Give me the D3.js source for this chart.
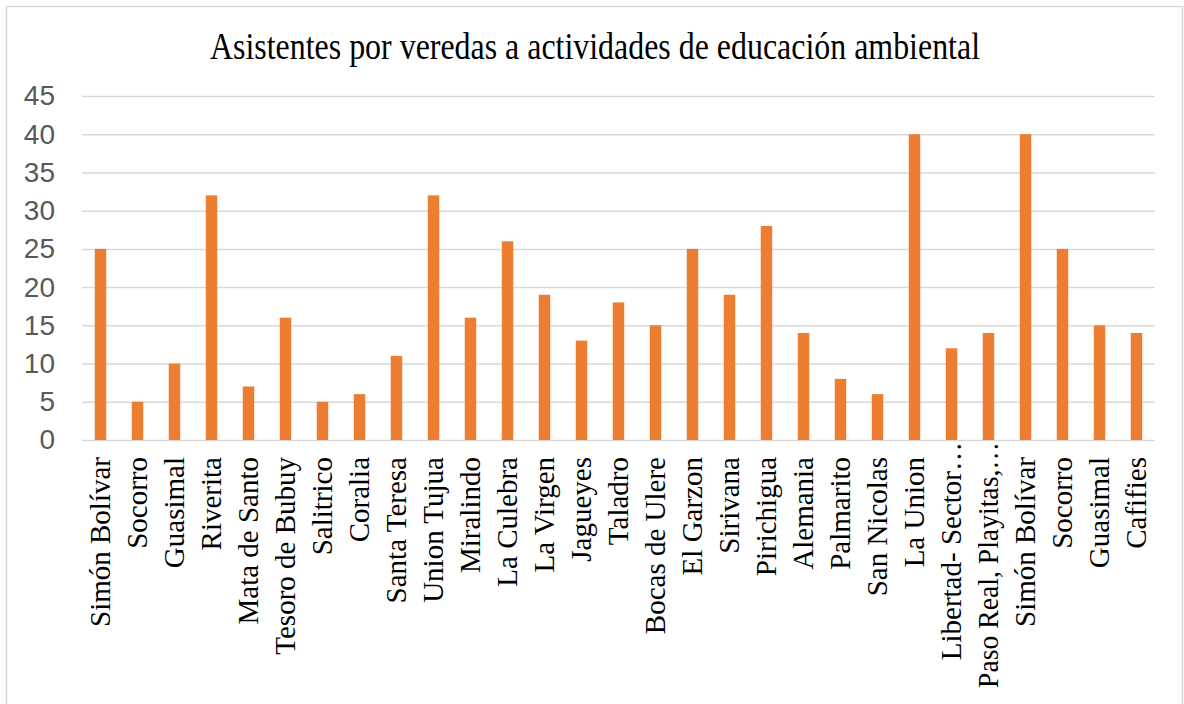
<!DOCTYPE html>
<html>
<head>
<meta charset="utf-8">
<script src="https://cdn.jsdelivr.net/npm/d3@7"></script>
<style>
  body { margin: 0; background: #fff; }
</style>
</head>
<body>
<script>
'use strict';
// data
let veredas = ["Simón Bolívar", "Socorro", "Guasimal", "Riverita", "Mata de Santo",
  "Tesoro de Bubuy", "Salitrico", "Coralia", "Santa Teresa", "Union Tujua",
  "Miralindo", "La Culebra", "La Virgen", "Jagueyes", "Taladro", "Bocas de Ulere",
  "El Garzon", "Sirivana", "Pirichigua", "Alemania", "Palmarito", "San Nicolas",
  "La Union", "Libertad- Sector…", "Paso Real, Playitas,…", "Simón Bolívar",
  "Socorro", "Guasimal", "Cafifies"];
let asistentes = [25, 5, 10, 32, 7, 16, 5, 6, 11, 32, 16, 26, 19, 13, 18, 15,
  25, 19, 28, 14, 8, 6, 40, 12, 14, 40, 25, 15, 14];
let yTicks = [0, 5, 10, 15, 20, 25, 30, 35, 40, 45];
let title = "Asistentes por veredas a actividades de educación ambiental";

(function() {
  let width = 1184, height = 704;
  let plot = {left: 82, right: 1155, top: 96, bottom: 440};

  let svg = d3.select('body')
    .append('svg')
    .attr('width', width)
    .attr('height', height);

  // chart frame
  svg.append('rect')
    .attr('x', 6.5).attr('y', 6.5)
    .attr('width', 1176).attr('height', 700)
    .attr('fill', 'none')
    .attr('stroke', '#d9d9d9')
    .attr('stroke-width', 1.5);

  // title (the original font is a bit condensed, so squeeze it to its width)
  svg.append('text')
    .attr('x', 210)
    .attr('y', 59)
    .attr('textLength', 770)
    .attr('lengthAdjust', 'spacingAndGlyphs')
    .style('font-family', '"Liberation Serif", "Times New Roman", serif')
    .style('font-size', '37px')
    .attr('fill', '#000')
    .text(title);

  // scales (index-based since some names repeat)
  let xScale = d3.scaleBand()
    .domain(d3.range(veredas.length))
    .range([plot.left, plot.right])
    .paddingInner(0.69)
    .paddingOuter(0.345);

  let yScale = d3.scaleLinear()
    .domain([0, 45])
    .range([plot.bottom, plot.top]);

  // gridlines + y labels
  let yAxis = d3.axisLeft(yScale)
    .tickValues(yTicks)
    .tickSize(-(plot.right - plot.left))
    .tickPadding(27);
  let gy = svg.append('g')
    .attr('transform', 'translate(' + plot.left + ',0)')
    .call(yAxis);
  gy.select('.domain').remove();
  gy.selectAll('.tick line')
    .attr('stroke', '#d9d9d9')
    .attr('stroke-width', 1.5);
  gy.selectAll('.tick text')
    .attr('fill', '#595959')
    .style('font-family', '"Liberation Sans", Arial, sans-serif')
    .style('font-size', '28px');

  // bars
  svg.selectAll('.bar')
    .data(asistentes)
    .enter()
    .append('rect')
      .attr('class', 'bar')
      .attr('x', (d, i) => xScale(i))
      .attr('y', d => yScale(d))
      .attr('width', xScale.bandwidth())
      .attr('height', d => yScale(0) - yScale(d))
      .attr('fill', '#ED7D31');

  // x labels, rotated
  let xAxis = d3.axisBottom(xScale)
    .tickSize(0)
    .tickFormat(i => veredas[i]);
  let gx = svg.append('g')
    .attr('transform', 'translate(0,' + plot.bottom + ')')
    .call(xAxis);
  gx.select('.domain').remove();
  gx.selectAll('.tick text')
    .attr('fill', '#000')
    .style('font-family', '"Liberation Serif", "Times New Roman", serif')
    .style('font-size', '29px')
    .attr('text-anchor', 'end')
    .attr('transform', 'rotate(-90)')
    .attr('x', -17)
    .attr('y', 0)
    .attr('dy', '0.33em');

  // truncated labels reach up to the plot edge and stop short of the frame
  gx.selectAll('.tick text')
    .filter(i => veredas[i].endsWith('…'))
    .attr('x', -2)
    .each(function() {
      let len = this.getComputedTextLength();
      if (len > 246) {
        d3.select(this)
          .attr('textLength', 246)
          .attr('lengthAdjust', 'spacingAndGlyphs');
      }
    });
})();
</script>
</body>
</html>
